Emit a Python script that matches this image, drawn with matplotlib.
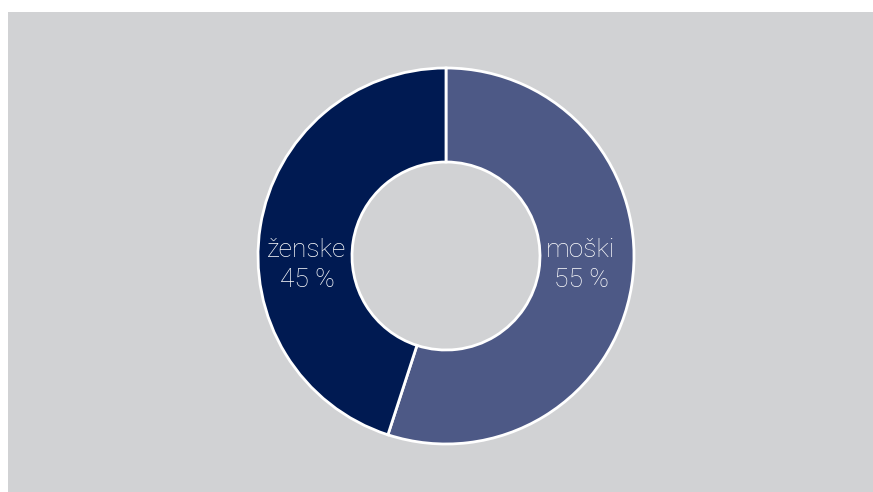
import matplotlib
matplotlib.use("Agg")
import matplotlib.pyplot as plt
from matplotlib.patches import Rectangle

labels = ["moški", "ženske"]
shares = [55, 45]
colors = ["#4d5986", "#001a52"]

W, H = 873, 492
fig = plt.figure(figsize=(W / 100, H / 100), dpi=100)
fig.patch.set_facecolor("white")
# grey panel, white strip on left and top
fig.patches.append(Rectangle((8 / W, 0), 1, 1 - 12 / H,
                             transform=fig.transFigure, facecolor="#d1d2d4",
                             edgecolor="none", zorder=-10))

# axes in pixel units, centred on the donut
ax = fig.add_axes([246 / W, 36 / H, 400 / W, 400 / H])

R = 188
wedges, _ = ax.pie(shares, colors=colors, radius=R, startangle=90, counterclock=False,
                   wedgeprops=dict(width=R * 0.5, edgecolor="white", linewidth=2))
# pie resets the limits, so set them afterwards
ax.set_xlim(-200, 200)
ax.set_ylim(-200, 200)
ax.set_aspect("equal")
ax.axis("off")

# labels placed in the middle of the ring, left/right of centre
pos = {"moški": (135, -9), "ženske": (-139, -9)}
for lab, val in zip(labels, shares):
    x, y = pos[lab]
    ax.text(x, y, f"{lab}\n{val} %", color="white", ha="center", va="center",
            fontsize=19, family="Roboto", fontweight="light", linespacing=1.3)

fig.savefig("out.png", dpi=100)
